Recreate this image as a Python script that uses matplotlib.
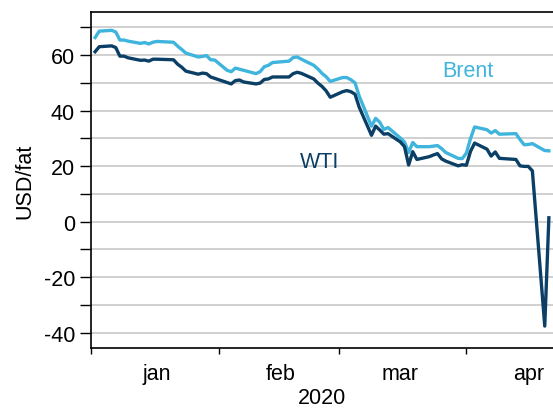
import pandas as pd
import matplotlib
matplotlib.use("Agg")
import matplotlib.pyplot as plt
import matplotlib.dates as mdates

plt.rcParams['font.family'] = ['Liberation Sans', 'DejaVu Sans']
plt.rcParams['axes.unicode_minus'] = False

# trading days shown in the chart
days = pd.bdate_range("2020-01-02", "2020-04-21")
days = days.drop(pd.to_datetime(["2020-01-20", "2020-02-17", "2020-04-10"]))

wti = [61.2, 63.0, 63.3, 62.7, 59.6, 59.6, 59.0, 58.1, 58.2, 57.8, 58.5, 58.5, 58.3, 56.7, 55.6, 54.2, 53.1, 53.5, 53.3, 52.1, 51.6,
       50.1, 49.6, 50.8, 51.0, 50.3, 49.6, 49.9, 51.2, 51.4, 52.1, 52.1, 53.3, 53.8, 53.4, 51.4, 49.9, 48.7, 47.1, 44.8,
       46.8, 47.2, 46.8, 45.9, 41.3, 31.1, 34.4, 33.0, 31.5, 31.7, 28.7, 27.0, 20.4, 25.2, 22.4, 23.4, 24.0, 24.5, 22.6, 21.8, 20.1, 20.5,
       20.3, 25.3, 28.3, 26.1, 23.6, 25.1, 22.8, 22.4, 20.1, 19.9, 19.9, 18.3, -37.6, 1.4]

brent = [66.3, 68.6, 68.9, 68.3, 65.4, 65.4, 65.0, 64.2, 64.5, 64.0, 64.6, 64.9, 64.6, 63.2, 62.0, 60.7, 59.3, 59.5, 59.8, 58.3, 58.2,
         54.5, 54.0, 55.3, 54.9, 54.5, 53.3, 54.0, 55.8, 56.3, 57.3, 57.8, 59.1, 59.3, 58.5, 56.3, 55.0, 53.4, 52.2, 50.5,
         51.9, 51.9, 51.1, 50.0, 45.3, 34.4, 37.2, 35.8, 33.2, 33.9, 30.1, 28.7, 24.9, 28.5, 27.0, 27.0, 27.2, 27.4, 26.3, 24.9, 22.8, 22.7,
         24.7, 29.9, 34.1, 33.1, 31.9, 32.8, 31.5, 31.7, 29.6, 27.7, 27.8, 28.1, 25.6, 25.5]

month_labels = ["jan", "feb", "mar", "apr"]
month_label_days = ["2020-01-17", "2020-02-16", "2020-03-16", "2020-04-16"]

brent_col = "#3fb4dc"
wti_col = "#0b3f66"
fs = 15.5

fig = plt.figure(figsize=(5.53, 4.14), dpi=100)
ax = fig.add_axes([91/553, 65/414, 462/553, 336/414])

ax.plot(days, brent, color=brent_col, lw=2.4)
ax.plot(days, wti, color=wti_col, lw=2.4)

ax.text(pd.Timestamp("2020-04-01 10:00"), 54.5, "Brent", color=brent_col, fontsize=fs, ha="center", va="center")
ax.text(pd.Timestamp("2020-02-25 12:00"), 21.5, "WTI", color=wti_col, fontsize=fs, ha="center", va="center")

ax.set_xlim(pd.Timestamp("2020-01-01"), pd.Timestamp("2020-04-22"))
ax.set_ylim(-45.5, 75.5)

yt = list(range(-40, 80, 10))
ax.set_yticks(yt)
ax.set_yticklabels([str(v) if v % 20 == 0 else "" for v in yt], fontsize=fs)
ax.grid(axis="y", color="#c8c8c8", lw=1.2)
ax.set_axisbelow(True)

ax.xaxis.set_major_locator(mdates.MonthLocator())
ax.xaxis.set_major_formatter(plt.NullFormatter())
ax.set_xticks([mdates.date2num(pd.Timestamp(d)) for d in month_label_days], month_labels, minor=True)
ax.tick_params(axis="x", which="major", length=4, direction="out", width=1)
ax.tick_params(axis="x", which="minor", length=0, pad=11, labelsize=fs)
ax.tick_params(axis="y", length=8, width=1, direction="out")

ax.spines["right"].set_visible(False)
for s in ["left", "bottom", "top"]:
    ax.spines[s].set_linewidth(1.2)

ax.set_xlabel("2020", fontsize=fs, labelpad=2)
ax.set_ylabel("USD/fat", fontsize=fs, labelpad=6)

fig.savefig("out.png", dpi=100)
